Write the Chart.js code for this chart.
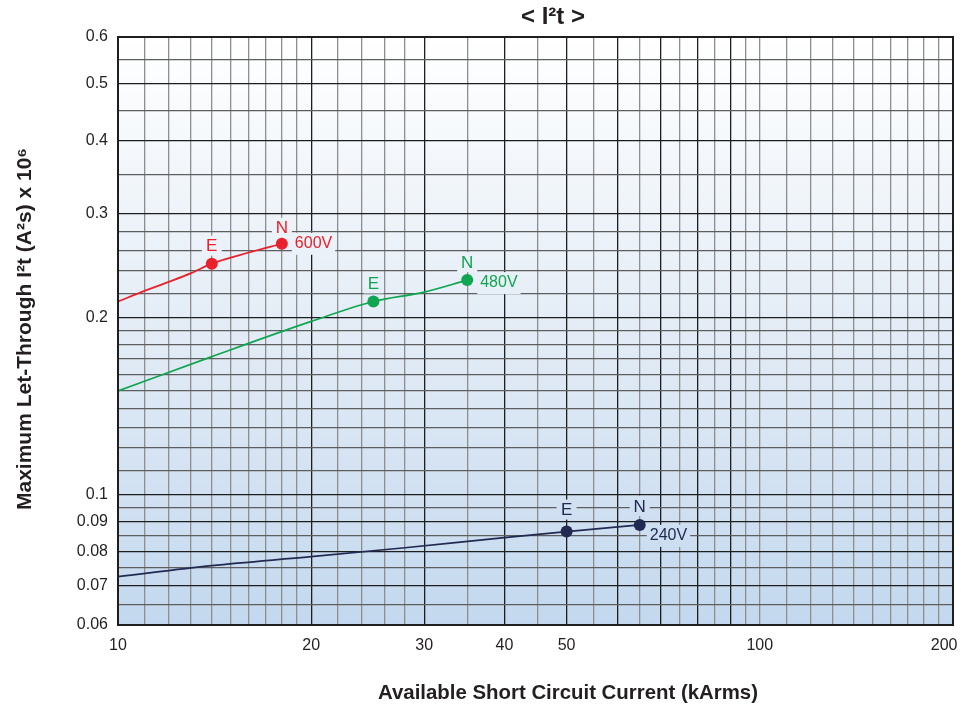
<!DOCTYPE html>
<html>
<head>
<meta charset="utf-8">
<script src="https://cdn.jsdelivr.net/npm/chart.js@4.4.1/dist/chart.umd.min.js"></script>
<style>
  html, body { margin: 0; padding: 0; background: #fff; }
  #wrap { width: 961px; height: 712px; }
</style>
</head>
<body>
<div id="wrap"><canvas id="i2tChart" width="961" height="712"></canvas></div>
<script>
// available current (kA) vs max let-through I2t (x10^6 A2s)
var current600 = [10, 11, 12, 13, 14, 16, 18];
var i2t600 = [0.213, 0.222, 0.230, 0.238, 0.247, 0.258, 0.267];
var current480 = [10, 14, 20, 25, 30, 35];
var i2t480 = [0.150, 0.1716, 0.197, 0.213, 0.221, 0.2316];
var current240 = [10, 14, 20, 28, 40, 50, 65];
var i2t240 = [0.0725, 0.0757, 0.0784, 0.0812, 0.0845, 0.0865, 0.0888];

// which points get a marker, and their letter
var marks600 = {4: 'E', 6: 'N'};
var marks480 = {3: 'E', 5: 'N'};
var marks240 = {5: 'E', 6: 'N'};
var voltLabels = ['600V', '480V', '240V'];

// grid lines and tick labels of the log-log paper
var xGrid = [10, 11, 12, 13, 14, 15, 16, 17, 18, 19, 20, 22, 24, 26, 28, 30, 35, 40, 45, 50, 55, 60, 65, 70, 75, 80, 85, 90, 95, 100,
             110, 120, 130, 140, 150, 160, 170, 180, 190, 200];
var xLabels = [10, 20, 30, 40, 50, 100, 200];
var xMajor = [20, 30, 40, 50, 60, 70, 80, 90];
var yGrid = [0.06, 0.065, 0.07, 0.075, 0.08, 0.085, 0.09, 0.095, 0.1, 0.11, 0.12, 0.13, 0.14, 0.15, 0.16, 0.17, 0.18, 0.19, 0.2,
             0.22, 0.24, 0.26, 0.28, 0.3, 0.35, 0.4, 0.45, 0.5, 0.55, 0.6];
var yLabels = [0.06, 0.07, 0.08, 0.09, 0.1, 0.2, 0.3, 0.4, 0.5, 0.6];
var yMajor = [0.07, 0.08, 0.09, 0.1, 0.2, 0.3, 0.4, 0.5];

var FONT = '"Liberation Sans", Arial, Helvetica, sans-serif';
var colors = ['#e8212b', '#10a550', '#222a52'];

function toPoints(xs, ys) {
    return xs.map(function(x, i) { return {x: x, y: ys[i]}; });
}

function makeSet(xs, ys, marks, color) {
    return {
        data: toPoints(xs, ys),
        marks: marks,
        borderColor: color,
        backgroundColor: color,
        borderWidth: 1.7,
        tension: 0.4,
        cubicInterpolationMode: 'monotone',
        pointRadius: function(ctx) { return marks[ctx.dataIndex] ? 6 : 0; },
        pointBorderWidth: 0,
        pointBackgroundColor: color
    };
}

var bgGradient = null;
function getGradient(chart) {
    var a = chart.chartArea;
    var g = chart.ctx.createLinearGradient(0, a.top, 0, a.bottom);
    g.addColorStop(0, '#ffffff');
    g.addColorStop(0.5, '#e3ecf6');
    g.addColorStop(1, '#c3d8ee');
    return g;
}

// label offsets from the marker, in pixels
var letterOffset = [[-17, -15], [-17, -17], [-21, -18]];
var voltOffset = [[13, 0], [13, 3], [10, 11]];

var paperPlugin = {
    id: 'paper',
    beforeDraw: function(chart) {
        var a = chart.chartArea;
        bgGradient = getGradient(chart);
        chart.ctx.save();
        chart.ctx.fillStyle = bgGradient;
        chart.ctx.fillRect(a.left, a.top, a.right - a.left, a.bottom - a.top);
        chart.ctx.restore();
    },
    beforeDatasetsDraw: function(chart) {
        var ctx = chart.ctx;
        var xs = chart.scales.x, ys = chart.scales.y;
        ctx.save();
        ctx.textBaseline = 'middle';
        chart.data.datasets.forEach(function(ds, di) {
            var lastIdx = -1;
            ctx.font = '17px ' + FONT;
            Object.keys(ds.marks).forEach(function(k) {
                var p = ds.data[k];
                var px = xs.getPixelForValue(p.x), py = ys.getPixelForValue(p.y);
                var dy = ds.marks[k] === 'E' ? letterOffset[di][0] : letterOffset[di][1];
                ctx.fillStyle = bgGradient;
                ctx.fillRect(px - 10, py + dy - 11, 20, 20);
                ctx.fillStyle = colors[di];
                ctx.textAlign = 'center';
                ctx.fillText(ds.marks[k], px, py + dy);
                lastIdx = Math.max(lastIdx, +k);
            });
            ctx.font = '16px ' + FONT;
            var q = ds.data[lastIdx];
            var qx = xs.getPixelForValue(q.x) + voltOffset[di][0];
            var qy = ys.getPixelForValue(q.y) + voltOffset[di][1];
            var w = ctx.measureText(voltLabels[di]).width;
            ctx.fillStyle = bgGradient;
            ctx.fillRect(qx - 3, qy - 11, w + 6, 22);
            ctx.fillStyle = colors[di];
            ctx.textAlign = 'left';
            ctx.fillText(voltLabels[di], qx, qy);
        });
        ctx.restore();
    },
    afterDraw: function(chart) {
        var ctx = chart.ctx;
        var a = chart.chartArea;
        ctx.save();
        ctx.strokeStyle = '#1e1e1e';
        ctx.lineWidth = 2;
        ctx.strokeRect(a.left, a.top, a.right - a.left, a.bottom - a.top);

        ctx.fillStyle = '#231f20';
        ctx.textAlign = 'center';
        ctx.textBaseline = 'middle';
        ctx.font = 'bold 24px ' + FONT;
        ctx.fillText('< I\u00b2t >', 553, 17);
        ctx.font = 'bold 20.4px ' + FONT;
        ctx.fillText('Available Short Circuit Current (kArms)', 568, 693);
        ctx.font = 'bold 21px ' + FONT;
        ctx.translate(25, 329);
        ctx.rotate(-Math.PI / 2);
        ctx.fillText('Maximum Let-Through I\u00b2t (A\u00b2s) x 10\u2076', 0, 0);
        ctx.restore();
    }
};

function gridColor(major, minorColor) {
    return function(ctx) {
        if (!ctx.tick) return minorColor;
        return major.indexOf(ctx.tick.value) >= 0 ? '#1e1e1e' : minorColor;
    };
}

var chart = new Chart(document.getElementById('i2tChart').getContext('2d'), {
    type: 'line',
    data: {
        datasets: [
            makeSet(current600, i2t600, marks600, colors[0]),
            makeSet(current480, i2t480, marks480, colors[1]),
            makeSet(current240, i2t240, marks240, colors[2])
        ]
    },
    options: {
        responsive: false,
        animation: false,
        events: [],
        devicePixelRatio: 1,
        layout: { padding: { top: 37, right: 8, left: 0, bottom: 0 } },
        plugins: {
            legend: { display: false },
            tooltip: { enabled: false },
            title: { display: false }
        },
        scales: {
            x: {
                type: 'logarithmic',
                min: 10,
                max: 200,
                afterBuildTicks: function(scale) {
                    scale.ticks = xGrid.map(function(v) { return {value: v}; });
                },
                afterFit: function(scale) {
                    scale.height = 87;
                    scale.paddingLeft = 0;
                    scale.paddingRight = 0;
                },
                grid: { color: gridColor(xMajor, '#8e8e8e'), lineWidth: 1.3, drawTicks: false },
                border: { display: false },
                ticks: {
                    autoSkip: false,
                    maxRotation: 0,
                    padding: 11,
                    color: '#231f20',
                    font: { family: FONT, size: 16 },
                    callback: function(value) {
                        if (xLabels.indexOf(value) < 0) return '';
                        return value === 200 ? '200    ' : String(value);
                    }
                }
            },
            y: {
                type: 'logarithmic',
                min: 0.06,
                max: 0.6,
                afterBuildTicks: function(scale) {
                    scale.ticks = yGrid.map(function(v) { return {value: v}; });
                },
                afterFit: function(scale) {
                    scale.width = 118;
                    scale.paddingTop = 0;
                    scale.paddingBottom = 0;
                },
                grid: { color: gridColor(yMajor, '#5e5e5e'), lineWidth: 1.3, drawTicks: false },
                border: { display: false },
                ticks: {
                    autoSkip: false,
                    padding: 10,
                    color: '#231f20',
                    font: { family: FONT, size: 16 },
                    callback: function(value) {
                        return yLabels.indexOf(value) >= 0 ? String(value) : '';
                    }
                }
            }
        }
    },
    plugins: [paperPlugin]
});
</script>
</body>
</html>
